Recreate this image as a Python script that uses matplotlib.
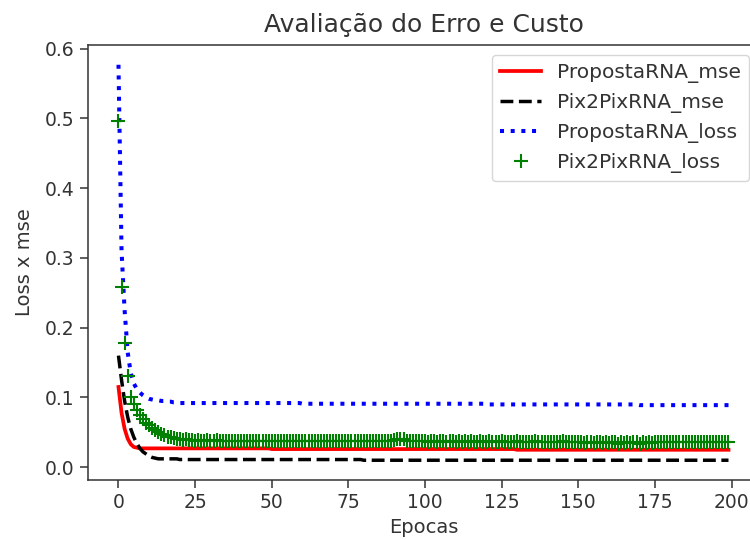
import matplotlib
matplotlib.use("Agg")
import matplotlib.pyplot as plt

## dados ##

epocas = list(range(200))

proposta_mse = [
    0.115, 0.078, 0.055, 0.041, 0.033, 0.029, 0.028, 0.027, 0.027, 0.027,
    0.027, 0.027, 0.027, 0.027, 0.027, 0.027, 0.027, 0.027, 0.027, 0.027,
    0.027, 0.027, 0.027, 0.027, 0.027, 0.027, 0.027, 0.027, 0.027, 0.027,
    0.027, 0.027, 0.027, 0.027, 0.027, 0.027, 0.027, 0.027, 0.027, 0.027,
    0.027, 0.027, 0.027, 0.027, 0.027, 0.027, 0.027, 0.027, 0.027, 0.027,
    0.026, 0.026, 0.026, 0.026, 0.026, 0.026, 0.026, 0.026, 0.026, 0.026,
    0.026, 0.026, 0.026, 0.026, 0.026, 0.026, 0.026, 0.026, 0.026, 0.026,
    0.026, 0.026, 0.026, 0.026, 0.026, 0.026, 0.026, 0.026, 0.026, 0.026,
    0.026, 0.026, 0.026, 0.026, 0.026, 0.026, 0.026, 0.026, 0.026, 0.026,
    0.026, 0.026, 0.026, 0.026, 0.026, 0.026, 0.026, 0.026, 0.026, 0.026,
    0.026, 0.026, 0.026, 0.026, 0.026, 0.026, 0.026, 0.026, 0.026, 0.026,
    0.026, 0.026, 0.026, 0.026, 0.026, 0.026, 0.026, 0.026, 0.026, 0.026,
    0.026, 0.026, 0.026, 0.026, 0.026, 0.026, 0.026, 0.026, 0.026, 0.026,
    0.025, 0.025, 0.025, 0.025, 0.025, 0.025, 0.025, 0.025, 0.025, 0.025,
    0.025, 0.025, 0.025, 0.025, 0.025, 0.025, 0.025, 0.025, 0.025, 0.025,
    0.025, 0.025, 0.025, 0.025, 0.025, 0.025, 0.025, 0.025, 0.025, 0.025,
    0.025, 0.025, 0.025, 0.025, 0.025, 0.025, 0.025, 0.025, 0.025, 0.025,
    0.025, 0.025, 0.025, 0.025, 0.025, 0.025, 0.025, 0.025, 0.025, 0.025,
    0.025, 0.025, 0.025, 0.025, 0.025, 0.025, 0.025, 0.025, 0.025, 0.025,
    0.025, 0.025, 0.025, 0.025, 0.025, 0.025, 0.025, 0.025, 0.025, 0.025,
]

pix2pix_mse = [
    0.160, 0.125, 0.095, 0.072, 0.055, 0.043, 0.034, 0.027, 0.022, 0.019,
    0.016, 0.014, 0.013, 0.012, 0.012, 0.012, 0.012, 0.012, 0.012, 0.012,
    0.011, 0.011, 0.011, 0.011, 0.011, 0.011, 0.011, 0.011, 0.011, 0.011,
    0.011, 0.011, 0.011, 0.011, 0.011, 0.011, 0.011, 0.011, 0.011, 0.011,
    0.011, 0.011, 0.011, 0.011, 0.011, 0.011, 0.011, 0.011, 0.011, 0.011,
    0.011, 0.011, 0.011, 0.011, 0.011, 0.011, 0.011, 0.011, 0.011, 0.011,
    0.011, 0.011, 0.011, 0.011, 0.011, 0.011, 0.011, 0.011, 0.011, 0.011,
    0.011, 0.011, 0.011, 0.011, 0.011, 0.011, 0.011, 0.011, 0.011, 0.011,
    0.010, 0.010, 0.010, 0.010, 0.010, 0.010, 0.010, 0.010, 0.010, 0.010,
    0.010, 0.010, 0.010, 0.010, 0.010, 0.010, 0.010, 0.010, 0.010, 0.010,
    0.010, 0.010, 0.010, 0.010, 0.010, 0.010, 0.010, 0.010, 0.010, 0.010,
    0.010, 0.010, 0.010, 0.010, 0.010, 0.010, 0.010, 0.010, 0.010, 0.010,
    0.010, 0.010, 0.010, 0.010, 0.010, 0.010, 0.010, 0.010, 0.010, 0.010,
    0.010, 0.010, 0.010, 0.010, 0.010, 0.010, 0.010, 0.010, 0.010, 0.010,
    0.010, 0.010, 0.010, 0.010, 0.010, 0.010, 0.010, 0.010, 0.010, 0.010,
    0.010, 0.010, 0.010, 0.010, 0.010, 0.010, 0.010, 0.010, 0.010, 0.010,
    0.010, 0.010, 0.010, 0.010, 0.010, 0.010, 0.010, 0.010, 0.010, 0.010,
    0.010, 0.010, 0.010, 0.010, 0.010, 0.010, 0.010, 0.010, 0.010, 0.010,
    0.010, 0.010, 0.010, 0.010, 0.010, 0.010, 0.010, 0.010, 0.010, 0.010,
    0.010, 0.010, 0.010, 0.010, 0.010, 0.010, 0.010, 0.010, 0.010, 0.010,
]

proposta_loss = [
    0.577, 0.310, 0.225, 0.165, 0.135, 0.120, 0.112, 0.107, 0.103, 0.100,
    0.098, 0.097, 0.096, 0.096, 0.095, 0.095, 0.094, 0.094, 0.093, 0.093,
    0.092, 0.092, 0.092, 0.092, 0.092, 0.092, 0.092, 0.092, 0.092, 0.092,
    0.092, 0.092, 0.092, 0.092, 0.092, 0.092, 0.092, 0.092, 0.092, 0.092,
    0.092, 0.092, 0.092, 0.092, 0.092, 0.092, 0.092, 0.092, 0.092, 0.092,
    0.092, 0.092, 0.092, 0.092, 0.092, 0.092, 0.092, 0.092, 0.092, 0.092,
    0.091, 0.091, 0.091, 0.091, 0.091, 0.091, 0.091, 0.091, 0.091, 0.091,
    0.091, 0.091, 0.091, 0.091, 0.091, 0.091, 0.091, 0.091, 0.091, 0.091,
    0.091, 0.091, 0.091, 0.091, 0.091, 0.091, 0.091, 0.091, 0.091, 0.091,
    0.091, 0.091, 0.091, 0.091, 0.091, 0.091, 0.091, 0.091, 0.091, 0.091,
    0.091, 0.091, 0.091, 0.091, 0.091, 0.091, 0.091, 0.091, 0.091, 0.091,
    0.091, 0.091, 0.091, 0.091, 0.091, 0.091, 0.091, 0.091, 0.091, 0.091,
    0.090, 0.090, 0.090, 0.090, 0.090, 0.090, 0.090, 0.090, 0.090, 0.090,
    0.090, 0.090, 0.090, 0.090, 0.090, 0.090, 0.090, 0.090, 0.090, 0.090,
    0.090, 0.090, 0.090, 0.090, 0.090, 0.090, 0.090, 0.090, 0.090, 0.090,
    0.090, 0.090, 0.090, 0.090, 0.090, 0.090, 0.090, 0.090, 0.090, 0.090,
    0.090, 0.090, 0.090, 0.090, 0.090, 0.090, 0.090, 0.090, 0.090, 0.090,
    0.089, 0.089, 0.089, 0.089, 0.089, 0.089, 0.089, 0.089, 0.089, 0.089,
    0.089, 0.089, 0.089, 0.089, 0.089, 0.089, 0.089, 0.089, 0.089, 0.089,
    0.089, 0.089, 0.089, 0.089, 0.089, 0.089, 0.089, 0.089, 0.089, 0.089,
]

pix2pix_loss = [
    0.497, 0.258, 0.178, 0.131, 0.101, 0.090, 0.082, 0.075, 0.069, 0.064,
    0.060, 0.056, 0.053, 0.050, 0.048, 0.046, 0.044, 0.043, 0.042, 0.041,
    0.040, 0.039, 0.040, 0.039, 0.039, 0.038, 0.039, 0.038, 0.038, 0.039,
    0.038, 0.038, 0.039, 0.038, 0.038, 0.038, 0.037, 0.038, 0.038, 0.038,
    0.038, 0.037, 0.038, 0.038, 0.037, 0.038, 0.038, 0.037, 0.038, 0.037,
    0.037, 0.038, 0.037, 0.037, 0.038, 0.037, 0.037, 0.037, 0.038, 0.037,
    0.037, 0.037, 0.037, 0.038, 0.037, 0.037, 0.037, 0.037, 0.037, 0.038,
    0.037, 0.037, 0.037, 0.037, 0.037, 0.038, 0.037, 0.037, 0.037, 0.037,
    0.037, 0.037, 0.037, 0.037, 0.038, 0.037, 0.037, 0.037, 0.037, 0.038,
    0.039, 0.040, 0.041, 0.040, 0.038, 0.037, 0.037, 0.037, 0.037, 0.037,
    0.037, 0.036, 0.037, 0.037, 0.036, 0.037, 0.037, 0.036, 0.037, 0.037,
    0.036, 0.037, 0.036, 0.037, 0.036, 0.037, 0.036, 0.036, 0.037, 0.036,
    0.036, 0.037, 0.036, 0.036, 0.036, 0.037, 0.036, 0.036, 0.036, 0.036,
    0.037, 0.036, 0.036, 0.036, 0.036, 0.036, 0.037, 0.036, 0.036, 0.036,
    0.036, 0.036, 0.036, 0.036, 0.036, 0.037, 0.036, 0.036, 0.036, 0.036,
    0.036, 0.036, 0.035, 0.036, 0.036, 0.034, 0.036, 0.036, 0.035, 0.036,
    0.034, 0.036, 0.036, 0.033, 0.036, 0.035, 0.036, 0.034, 0.036, 0.036,
    0.033, 0.036, 0.035, 0.036, 0.034, 0.036, 0.036, 0.036, 0.036, 0.036,
    0.036, 0.036, 0.036, 0.036, 0.036, 0.036, 0.036, 0.036, 0.036, 0.036,
    0.036, 0.036, 0.036, 0.036, 0.036, 0.036, 0.036, 0.036, 0.036, 0.036,
]

## grafico ##

cor_texto = "#333333"
plt.rcParams["text.color"] = cor_texto
plt.rcParams["axes.labelcolor"] = cor_texto
plt.rcParams["xtick.color"] = cor_texto
plt.rcParams["ytick.color"] = cor_texto

fig = plt.figure(figsize=(7.5, 5.4), dpi=100)
# o eixo passa da borda direita, como no recorte original
axis = fig.add_axes([0.1173, 0.1111, 0.8947, 0.8056])

axis.plot(epocas, proposta_mse, color="r", lw=2.7, label="PropostaRNA_mse")
axis.plot(epocas, pix2pix_mse, color="k", lw=2.5, ls="--", label="Pix2PixRNA_mse")
axis.plot(epocas, proposta_loss, color="b", lw=2.9, ls=":", label="PropostaRNA_loss")
axis.plot(epocas, pix2pix_loss, color="g", ls="none", marker="+",
          markersize=10, markeredgewidth=1.5, label="Pix2PixRNA_loss")

axis.set_xticks([0, 25, 50, 75, 100, 125, 150, 175, 200])
axis.set_yticks([0.0, 0.1, 0.2, 0.3, 0.4, 0.5, 0.6])
axis.tick_params(labelsize=13.5, length=6, width=1.1)
for s in axis.spines.values():
    s.set_linewidth(1.1)
    s.set_color("#333333")

axis.set_title("Avaliação do Erro e Custo", fontsize=18, pad=9)
axis.set_xlabel("Epocas", fontsize=14)
axis.set_ylabel("Loss x mse", fontsize=14, labelpad=8)

axis.legend(loc="upper right", fontsize=14.5)

plt.savefig("out.png", dpi=100)
